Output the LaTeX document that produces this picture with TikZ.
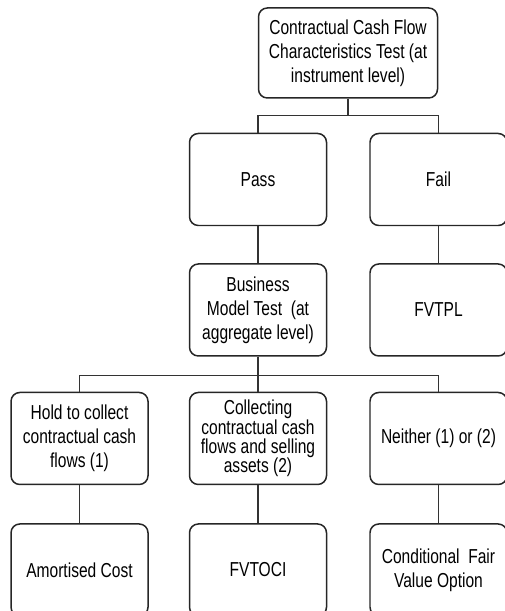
\documentclass[tikz,border=0pt]{standalone}
\usepackage{fontspec}
\setmainfont{Liberation Sans}[FakeStretch=0.77]
\usetikzlibrary{positioning}
\tikzset{
  box/.style={draw=black!85, line width=0.85pt, rounded corners=5pt, align=center,
    minimum width=2.74cm, minimum height=1.84cm, inner sep=1pt,
    font=\fontsize{11.5}{13.6}\selectfont},
  link/.style={draw=black!80, line width=0.85pt}
}
\begin{document}
\begin{tikzpicture}[node distance=0.74cm and 0.84cm]
  \useasboundingbox (0,0) rectangle (10.08,-12.22);
  \node[box, minimum width=3.58cm, minimum height=1.8cm] (cct) at (6.96,-1.06)
    {Contractual Cash Flow\\Characteristics Test (at\\instrument level)};
  \node[box] (pass) at (5.16,-3.59) {Pass};
  \node[box, right=of pass] (fail) {Fail};
  \node[box, below=of pass] (bmt) {Business\\Model Test\ \ (at\\aggregate level)};
  \node[box, below=of fail] (fvtpl) {FVTPL};
  \node[box, below=0.7cm of bmt, font=\fontsize{11.5}{11}\selectfont] (coll)
    {Collecting\\contractual cash\\flows and selling\\assets (2)};
  \node[box, left=0.8cm of coll] (htc) {Hold to collect\\contractual cash\\flows (1)};
  \node[box, right=of coll] (neither) {Neither (1) or (2)};
  \node[box, below=0.76cm of htc] (amort) {Amortised Cost};
  \node[box, below=0.76cm of coll] (fvtoci) {FVTOCI};
  \node[box, below=0.76cm of neither] (cfvo) {Conditional\ \ Fair\\Value Option};
  % first split
  \draw[link] (cct.south) -- ++(0,-0.34) coordinate (j1) -| (pass.north);
  \draw[link] (j1) -| (fail.north);
  \draw[link] (pass) -- (bmt);
  \draw[link] (fail) -- (fvtpl);
  % second split
  \draw[link] (bmt.south) -- ++(0,-0.38) coordinate (j2) -| (htc.north);
  \draw[link] (j2) -- (coll.north);
  \draw[link] (j2) -| (neither.north);
  \draw[link] (htc) -- (amort);
  \draw[link] (coll) -- (fvtoci);
  \draw[link] (neither) -- (cfvo);
\end{tikzpicture}
\end{document}
